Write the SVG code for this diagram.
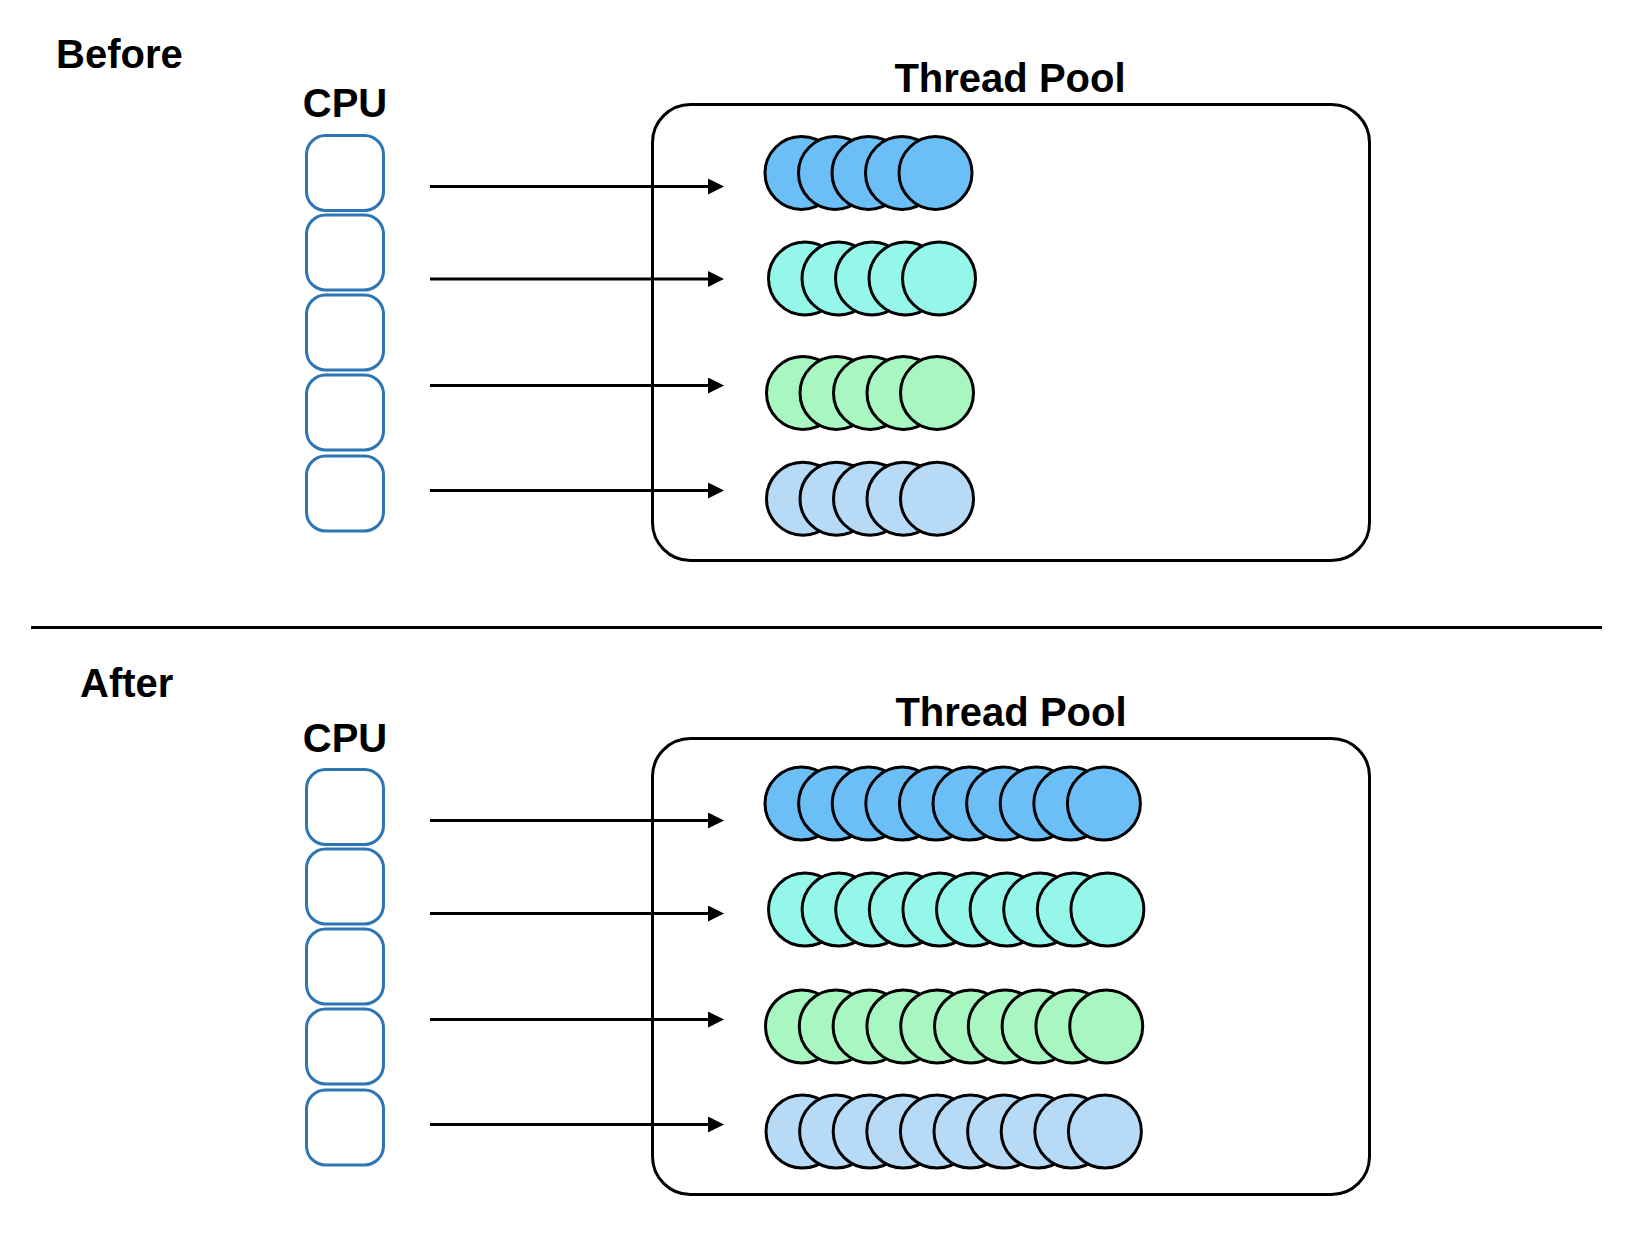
<svg xmlns="http://www.w3.org/2000/svg" width="1638" height="1254" viewBox="0 0 1638 1254">
<defs>
<style>
.lbl{font-family:"Liberation Sans",Arial,Helvetica,sans-serif;font-weight:bold;font-size:40px;fill:#000}
.cpu{fill:#fff;stroke:#2e75b6;stroke-width:3}
.pool{fill:none;stroke:#000;stroke-width:3}
.conn{stroke:#000;stroke-width:3;fill:none}
.t{stroke:#000;stroke-width:3}
.c1{fill:#6cbef7}
.c2{fill:#94f7e9}
.c3{fill:#a9f7c0}
.c4{fill:#b7daf7}
</style>
<marker id="arr" viewBox="0 0 16 16" refX="0" refY="8" markerWidth="16" markerHeight="16" markerUnits="userSpaceOnUse" orient="auto">
<path d="M0,0 L16,8 L0,16 z" fill="#000"/>
</marker>
</defs>
<rect width="1638" height="1254" fill="#fff"/>

<!-- BEFORE -->
<text class="lbl" x="56" y="68">Before</text>
<g id="before-cpu">
<text class="lbl" x="345" y="117" text-anchor="middle">CPU</text>
<rect class="cpu" x="306.5" y="135.5" width="77" height="75" rx="19"/>
<rect class="cpu" x="306.5" y="215" width="77" height="75" rx="19"/>
<rect class="cpu" x="306.5" y="295" width="77" height="75" rx="19"/>
<rect class="cpu" x="306.5" y="375" width="77" height="75" rx="19"/>
<rect class="cpu" x="306.5" y="456" width="77" height="75" rx="19"/>
</g>
<g id="before-pool">
<text class="lbl" x="1010" y="92" text-anchor="middle">Thread Pool</text>
<rect class="pool" x="652.5" y="104.5" width="717" height="456" rx="38"/>
</g>
<g id="before-threads">
<g class="c1">
<circle class="t" cx="801.5" cy="173" r="36.5"/><circle class="t" cx="835" cy="173" r="36.5"/><circle class="t" cx="868.5" cy="173" r="36.5"/><circle class="t" cx="902" cy="173" r="36.5"/><circle class="t" cx="935.5" cy="173" r="36.5"/>
</g>
<g class="c2">
<circle class="t" cx="805" cy="278.5" r="36.5"/><circle class="t" cx="838.5" cy="278.5" r="36.5"/><circle class="t" cx="872" cy="278.5" r="36.5"/><circle class="t" cx="905.5" cy="278.5" r="36.5"/><circle class="t" cx="939" cy="278.5" r="36.5"/>
</g>
<g class="c3">
<circle class="t" cx="803" cy="393" r="36.5"/><circle class="t" cx="836.5" cy="393" r="36.5"/><circle class="t" cx="870" cy="393" r="36.5"/><circle class="t" cx="903.5" cy="393" r="36.5"/><circle class="t" cx="937" cy="393" r="36.5"/>
</g>
<g class="c4">
<circle class="t" cx="803" cy="498.7" r="36.5"/><circle class="t" cx="836.5" cy="498.7" r="36.5"/><circle class="t" cx="870" cy="498.7" r="36.5"/><circle class="t" cx="903.5" cy="498.7" r="36.5"/><circle class="t" cx="937" cy="498.7" r="36.5"/>
</g>
</g>

<line x1="31" y1="627.5" x2="1602" y2="627.5" stroke="#000" stroke-width="3"/>

<!-- AFTER -->
<text class="lbl" x="80" y="697">After</text>
<g id="after-cpu">
<text class="lbl" x="345" y="752" text-anchor="middle">CPU</text>
<rect class="cpu" x="306.5" y="769.5" width="77" height="75" rx="19"/>
<rect class="cpu" x="306.5" y="849" width="77" height="75" rx="19"/>
<rect class="cpu" x="306.5" y="929" width="77" height="75" rx="19"/>
<rect class="cpu" x="306.5" y="1009" width="77" height="75" rx="19"/>
<rect class="cpu" x="306.5" y="1090" width="77" height="75" rx="19"/>
</g>
<g id="after-pool">
<text class="lbl" x="1011" y="726" text-anchor="middle">Thread Pool</text>
<rect class="pool" x="652.5" y="738.5" width="717" height="456" rx="38"/>
</g>
<g id="after-threads">
<g class="c1">
<circle class="t" cx="801.5" cy="803.6" r="36.5"/><circle class="t" cx="835.1" cy="803.6" r="36.5"/><circle class="t" cx="868.7" cy="803.6" r="36.5"/><circle class="t" cx="902.3" cy="803.6" r="36.5"/><circle class="t" cx="935.9" cy="803.6" r="36.5"/><circle class="t" cx="969.5" cy="803.6" r="36.5"/><circle class="t" cx="1003.1" cy="803.6" r="36.5"/><circle class="t" cx="1036.7" cy="803.6" r="36.5"/><circle class="t" cx="1070.3" cy="803.6" r="36.5"/><circle class="t" cx="1103.9" cy="803.6" r="36.5"/>
</g>
<g class="c2">
<circle class="t" cx="805" cy="909.6" r="36.5"/><circle class="t" cx="838.6" cy="909.6" r="36.5"/><circle class="t" cx="872.2" cy="909.6" r="36.5"/><circle class="t" cx="905.8" cy="909.6" r="36.5"/><circle class="t" cx="939.4" cy="909.6" r="36.5"/><circle class="t" cx="973" cy="909.6" r="36.5"/><circle class="t" cx="1006.6" cy="909.6" r="36.5"/><circle class="t" cx="1040.2" cy="909.6" r="36.5"/><circle class="t" cx="1073.8" cy="909.6" r="36.5"/><circle class="t" cx="1107.4" cy="909.6" r="36.5"/>
</g>
<g class="c3">
<circle class="t" cx="802" cy="1026.4" r="36.5"/><circle class="t" cx="835.8" cy="1026.4" r="36.5"/><circle class="t" cx="869.6" cy="1026.4" r="36.5"/><circle class="t" cx="903.4" cy="1026.4" r="36.5"/><circle class="t" cx="937.2" cy="1026.4" r="36.5"/><circle class="t" cx="971" cy="1026.4" r="36.5"/><circle class="t" cx="1004.8" cy="1026.4" r="36.5"/><circle class="t" cx="1038.6" cy="1026.4" r="36.5"/><circle class="t" cx="1072.4" cy="1026.4" r="36.5"/><circle class="t" cx="1106.2" cy="1026.4" r="36.5"/>
</g>
<g class="c4">
<circle class="t" cx="802.5" cy="1131.6" r="36.5"/><circle class="t" cx="836.1" cy="1131.6" r="36.5"/><circle class="t" cx="869.7" cy="1131.6" r="36.5"/><circle class="t" cx="903.3" cy="1131.6" r="36.5"/><circle class="t" cx="936.9" cy="1131.6" r="36.5"/><circle class="t" cx="970.5" cy="1131.6" r="36.5"/><circle class="t" cx="1004.1" cy="1131.6" r="36.5"/><circle class="t" cx="1037.7" cy="1131.6" r="36.5"/><circle class="t" cx="1071.3" cy="1131.6" r="36.5"/><circle class="t" cx="1104.9" cy="1131.6" r="36.5"/>
</g>
</g>

<g id="connectors">
<line class="conn" x1="430" y1="186.5" x2="708" y2="186.5" marker-end="url(#arr)"/>
<line class="conn" x1="430" y1="279" x2="708" y2="279" marker-end="url(#arr)"/>
<line class="conn" x1="430" y1="385.5" x2="708" y2="385.5" marker-end="url(#arr)"/>
<line class="conn" x1="430" y1="490.5" x2="708" y2="490.5" marker-end="url(#arr)"/>
<line class="conn" x1="430" y1="820.5" x2="708" y2="820.5" marker-end="url(#arr)"/>
<line class="conn" x1="430" y1="913.5" x2="708" y2="913.5" marker-end="url(#arr)"/>
<line class="conn" x1="430" y1="1019.5" x2="708" y2="1019.5" marker-end="url(#arr)"/>
<line class="conn" x1="430" y1="1124.5" x2="708" y2="1124.5" marker-end="url(#arr)"/>
</g>
</svg>
